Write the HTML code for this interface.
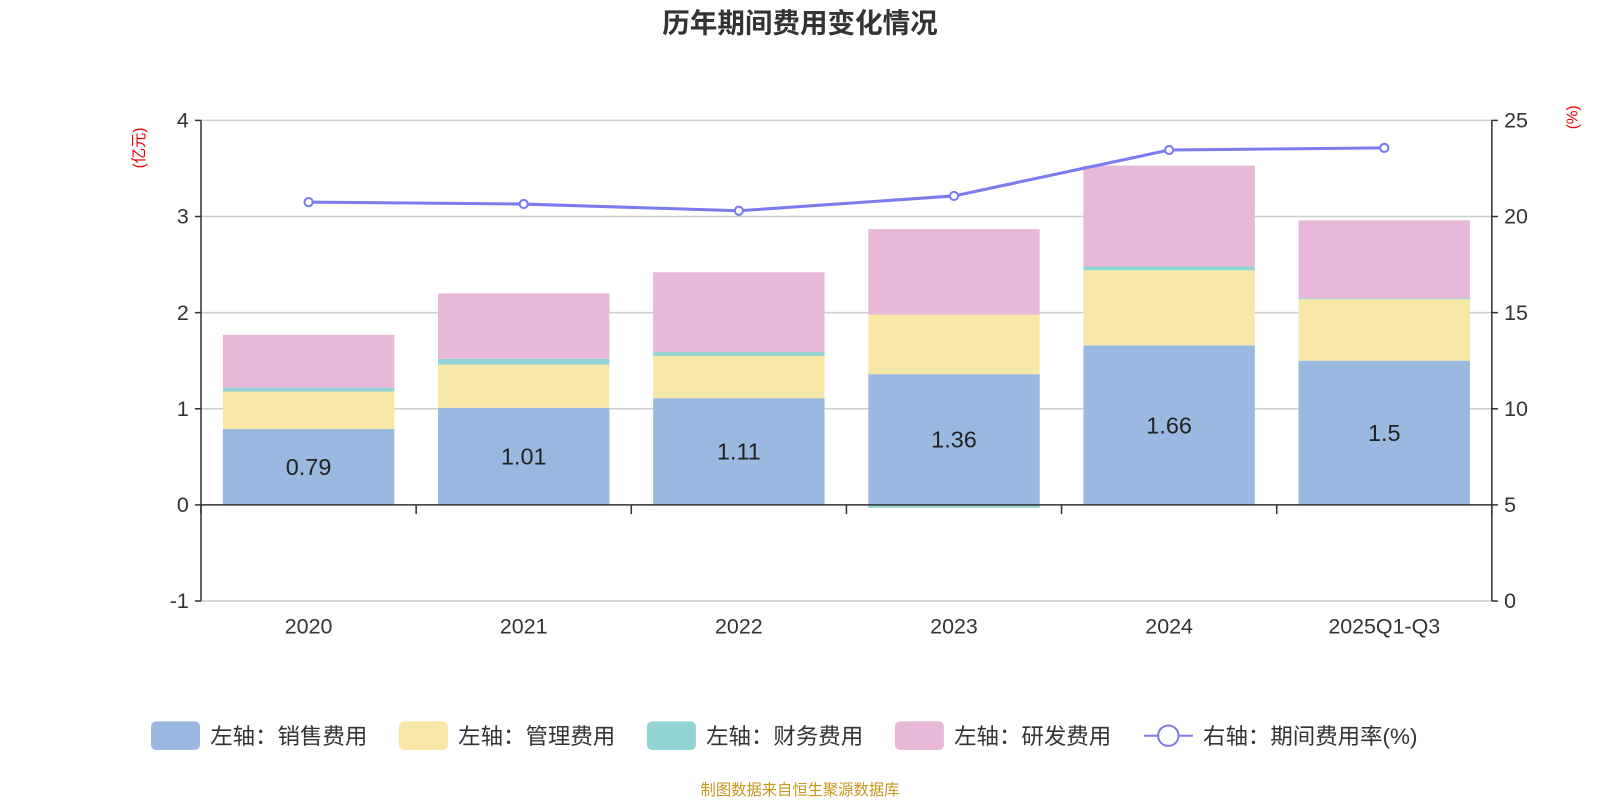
<!DOCTYPE html>
<html><head><meta charset="utf-8"><style>
body{margin:0;background:#fff;}
svg text{font-family:"Liberation Sans","Noto Sans CJK SC",sans-serif;}
</style></head><body>
<svg id="c" width="1600" height="800" xmlns="http://www.w3.org/2000/svg">
<g transform="scale(1.0204)">
<text x="784" y="32" text-anchor="middle" font-size="27" font-weight="bold" fill="#333">历年期间费用变化情况</text>
<text transform="translate(141,145) rotate(-90)" text-anchor="middle" font-size="15" fill="#e00">(亿元)</text>
<text transform="translate(1546,115) rotate(-90)" text-anchor="middle" font-size="15" fill="#e00">(%)</text>
<g id="grid"></g><g id="bars"></g><g id="axes"></g><g id="line"></g>
<g id="legend" font-size="22" fill="#333"></g>
<text x="784" y="779" text-anchor="middle" font-size="15" fill="#c8961e">制图数据来自恒生聚源数据库</text>
</g>
</svg>
<script>
const categories=["2020","2021","2022","2023","2024","2025Q1-Q3"];
const sales=[0.79,1.01,1.11,1.36,1.66,1.5];
const mgmt=[0.39,0.45,0.44,0.62,0.78,0.64];
const fin=[0.04,0.06,0.04,-0.03,0.04,0.01];
const rnd=[0.55,0.68,0.83,0.89,1.05,0.81];
const rate=[20.75,20.65,20.3,21.07,23.46,23.57];
const leftTicks=[-1,0,1,2,3,4];
const rightTicks=[0,5,10,15,20,25];
const NS="http://www.w3.org/2000/svg";
const X0=197,X1=1462,Ytop=118,Ybot=589;
const yL=v=>Ybot-(v+1)/5*(Ybot-Ytop);
const yR=v=>Ybot-v/25*(Ybot-Ytop);
const band=(X1-X0)/categories.length;
const xC=i=>X0+band*(i+0.5);
function mk(t,a,p){const e=document.createElementNS(NS,t);for(const k in a)e.setAttribute(k,a[k]);p.appendChild(e);return e;}
const grid=document.getElementById('grid'),axes=document.getElementById('axes'),bars=document.getElementById('bars'),line=document.getElementById('line'),lg=document.getElementById('legend');
leftTicks.forEach((v,i)=>{
 if(v!==0){const g=mk('line',{x1:X0,x2:X1,y1:yL(v),y2:yL(v),stroke:'#ccc','stroke-width':1.5},grid);
 }
 const t=mk('text',{x:X0-12,y:yL(v)+7,'text-anchor':'end','font-size':21,fill:'#333'},axes);t.textContent=v;
 
 mk('line',{x1:X0-6,x2:X0,y1:yL(v),y2:yL(v),stroke:'#333','stroke-width':1.5},axes);
});
rightTicks.forEach(v=>{
 const t=mk('text',{x:X1+12,y:yR(v)+7,'font-size':21,fill:'#333'},axes);t.textContent=v;
 
 mk('line',{x1:X1,x2:X1+6,y1:yR(v),y2:yR(v),stroke:'#333','stroke-width':1.5},axes);
});
mk('line',{x1:X0,x2:X0,y1:Ytop,y2:Ybot,stroke:'#333','stroke-width':1.5},axes);
mk('line',{x1:X1,x2:X1,y1:Ytop,y2:Ybot,stroke:'#333','stroke-width':1.5},axes);
const cols=['#9bb8e0','#f8e8a8','#92d3d3','#e7b8d8'];
const series=[sales,mgmt,fin,rnd];const names=['sales','mgmt','fin','rnd'];
const bw=168;
categories.forEach((c,i)=>{
 let pos=0,neg=0;
 series.forEach((s,k)=>{
  const v=s[i];let y0,y1;
  if(v>=0){y0=pos;y1=pos+v;pos=y1;}else{y0=neg;y1=neg+v;neg=y1;}
  const r=mk('rect',{x:xC(i)-bw/2,y:Math.min(yL(y0),yL(y1)),width:bw,height:Math.abs(yL(y1)-yL(y0)),fill:cols[k]},bars);
  
  
 });
 const t=mk('text',{x:xC(i),y:yL(sales[i]/2)+8,'text-anchor':'middle','font-size':23,fill:'#222'},bars);t.textContent=sales[i];
 
 const xl=mk('text',{x:xC(i),y:621,'text-anchor':'middle','font-size':21,fill:'#333'},axes);xl.textContent=c;
 
});
mk('line',{x1:X0,x2:X1,y1:yL(0),y2:yL(0),stroke:'#333','stroke-width':1.5},axes);
for(let i=0;i<=categories.length;i++)mk('line',{x1:X0+band*i,x2:X0+band*i,y1:yL(0),y2:yL(0)+9,stroke:'#333','stroke-width':1.5},axes);
const p=mk('polyline',{points:rate.map((v,i)=>xC(i)+','+yR(v)).join(' '),fill:'none',stroke:'#7b7bf0','stroke-width':3},line);

rate.forEach((v,i)=>{const c=mk('circle',{cx:xC(i),cy:yR(v),r:4,fill:'#fff',stroke:'#7b7bf0','stroke-width':2},line);
 });
const lnames=['左轴：销售费用','左轴：管理费用','左轴：财务费用','左轴：研发费用'];
const lx=[148,391,634,877];
lnames.forEach((n,k)=>{
 const g=mk('g',{},lg);
 mk('rect',{x:lx[k],y:707,width:48,height:28,rx:5,fill:cols[k]},g);
 const t=mk('text',{x:lx[k]+58,y:729},g);t.textContent=n;
});
const g=mk('g',{},lg);
mk('line',{x1:1121,x2:1169,y1:721,y2:721,stroke:'#7b7bf0','stroke-width':2},g);
mk('circle',{cx:1145,cy:721,r:10,fill:'#fff',stroke:'#7b7bf0','stroke-width':2},g);
const t=mk('text',{x:1179,y:729},g);t.textContent='右轴：期间费用率(%)';
</script>
</body></html>
